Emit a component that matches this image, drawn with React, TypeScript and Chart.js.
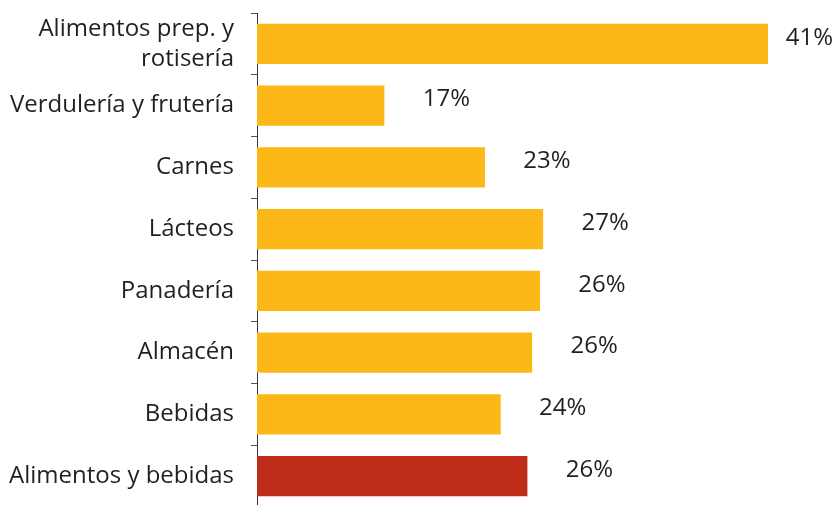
import React, { useEffect, useRef } from "react";
import { Chart, registerables } from "chart.js";

Chart.register(...registerables);

const categories: (string | string[])[] = [
  ["Alimentos prep. y", "rotisería"],
  "Verdulería y frutería",
  "Carnes",
  "Lácteos",
  "Panadería",
  "Almacén",
  "Bebidas",
  "Alimentos y bebidas",
];
const shares = [40.9, 16.5, 22.9, 26.6, 26.4, 25.9, 23.9, 25.6];
const axisMin = 8.4;
const axisMax = 45.1;

const YELLOW = "#FBB817";
const RED = "#BF2D1A";
const TEXT = "#231F20";
const FONT = "'Open Sans', 'Noto Sans', sans-serif";

const valueLabels = {
  id: "valueLabels",
  afterDatasetsDraw(chart: any) {
    const ctx = chart.ctx;
    const meta = chart.getDatasetMeta(0);
    ctx.save();
    ctx.font = `24px ${FONT}`;
    ctx.fillStyle = TEXT;
    ctx.textAlign = "center";
    ctx.textBaseline = "middle";
    meta.data.forEach((bar: any, i: number) => {
      const txt = `${Math.round(shares[i])}%`;
      const w = ctx.measureText(txt).width;
      const cx = Math.min(bar.x + 62, chart.width - w / 2 - 1);
      ctx.fillText(txt, cx, bar.y - 6);
    });
    ctx.restore();
  },
};

export default function App() {
  const ref = useRef<HTMLCanvasElement>(null);
  useEffect(() => {
    if (!ref.current) return;
    const chart = new Chart(ref.current, {
      type: "bar",
      data: {
        labels: categories,
        datasets: [
          {
            data: shares,
            backgroundColor: shares.map((_, i) => (i === shares.length - 1 ? RED : YELLOW)),
            borderWidth: 0,
            categoryPercentage: 1,
            barPercentage: 0.65,
          },
        ],
      },
      options: {
        indexAxis: "y",
        animation: false,
        responsive: false,
        maintainAspectRatio: false,
        layout: { padding: { top: 13, left: 0, right: 0, bottom: 0 } },
        plugins: { legend: { display: false }, tooltip: { enabled: false } },
        scales: {
          x: { display: false, min: axisMin, max: axisMax },
          y: {
            afterFit(scale: any) {
              scale.width = 257;
              scale.paddingTop = 0;
              scale.paddingBottom = 0;
            },
            border: { display: true, color: "#333333", width: 1 },
            grid: {
              display: true,
              drawOnChartArea: false,
              drawTicks: true,
              tickLength: 6,
              color: "#555555",
              offset: true,
            },
            ticks: {
              autoSkip: false,
              color: TEXT,
              padding: 17,
              font: { family: FONT, size: 24, lineHeight: 1.25 },
            },
          },
        },
      },
      plugins: [valueLabels],
    });
    return () => chart.destroy();
  }, []);
  return (
    <div style={{ position: "fixed", left: 0, top: 0, width: 834, height: 505, overflow: "hidden", background: "#fff" }}>
      <canvas ref={ref} width={834} height={507} style={{ display: "block" }} />
    </div>
  );
}
